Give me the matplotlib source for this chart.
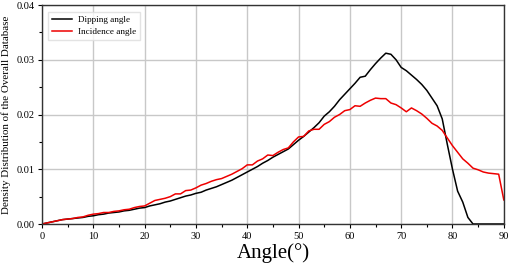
import matplotlib
matplotlib.use("Agg")
import matplotlib.pyplot as plt
from matplotlib.ticker import MultipleLocator
import numpy as np

angles = list(range(0, 91))
dipping = [0.0000,0.0002,0.0004,0.0006,0.0008,0.0009,0.0010,0.0011,0.0012,0.0014,
           0.0015,0.0017,0.0018,0.0020,0.0021,0.0022,0.0024,0.0025,0.0027,0.0029,
           0.0030,0.0033,0.0035,0.0037,0.0040,0.0042,0.0045,0.0048,0.0051,0.0053,
           0.0056,0.0058,0.0062,0.0065,0.0068,0.0072,0.0076,0.0080,0.0085,0.0090,
           0.0095,0.0100,0.0105,0.0111,0.0116,0.0122,0.0127,0.0132,0.0137,0.0145,
           0.0153,0.0160,0.0168,0.0176,0.0185,0.0197,0.0205,0.0215,0.0227,0.0237,
           0.0247,0.0257,0.0268,0.0270,0.0282,0.0293,0.0303,0.0312,0.0310,0.0300,
           0.0286,0.0280,0.0272,0.0264,0.0255,0.0244,0.0230,0.0216,0.0192,0.0145,
           0.0100,0.0060,0.0040,0.0012,0.0000,0.0000,0.0000,0.0000,0.0000,0.0000,
           0.0000]
incidence = [0.0000,0.0002,0.0004,0.0006,0.0008,0.0009,0.0010,0.0012,0.0013,0.0016,
             0.0018,0.0019,0.0021,0.0021,0.0023,0.0024,0.0026,0.0027,0.0030,0.0032,
             0.0033,0.0038,0.0043,0.0045,0.0047,0.0050,0.0055,0.0055,0.0061,0.0062,
             0.0066,0.0071,0.0074,0.0078,0.0081,0.0083,0.0087,0.0091,0.0096,0.0101,
             0.0108,0.0108,0.0115,0.0119,0.0126,0.0125,0.0131,0.0136,0.0139,0.0150,
             0.0159,0.0160,0.0170,0.0173,0.0173,0.0182,0.0187,0.0195,0.0200,0.0207,
             0.0209,0.0216,0.0215,0.0221,0.0226,0.0230,0.0229,0.0229,0.0221,0.0218,
             0.0212,0.0205,0.0212,0.0207,0.0201,0.0193,0.0184,0.0179,0.0171,0.0157,
             0.0143,0.0131,0.0119,0.0111,0.0102,0.0099,0.0095,0.0093,0.0092,0.0091,
             0.0044]

plt.rcParams['font.family'] = ['Liberation Serif', 'DejaVu Serif']

fig = plt.figure(figsize=(5.12, 2.64), dpi=100)
ax = fig.add_axes([0.082, 0.1515, 0.902, 0.8295])
ax.plot(angles, dipping, color='black', lw=1.1, label='Dipping angle')
ax.plot(angles, incidence, color='#ee0000', lw=1.1, label='Incidence angle')
ax.set_xlim(0, 90)
ax.set_ylim(0, 0.04)
ax.xaxis.set_major_locator(MultipleLocator(10))
ax.xaxis.set_minor_locator(MultipleLocator(5))
ax.yaxis.set_major_locator(MultipleLocator(0.01))
ax.yaxis.set_minor_locator(MultipleLocator(0.005))
ax.yaxis.set_major_formatter(matplotlib.ticker.FormatStrFormatter('%.2f'))
ax.grid(True, which='major', color='#c8c8c8', lw=1.0)
ax.set_axisbelow(True)
ax.tick_params(which='both', direction='out', labelsize=7.5, length=3, width=0.8, pad=2.5)
ax.tick_params(which='minor', length=2)
for s in ax.spines.values():
    s.set_linewidth(1.0)
    s.set_color('#333333')
ax.set_xlabel('Angle(°)', fontsize=15, labelpad=2)
ax.set_ylabel('Density Distribution of the Overall Database', fontsize=7.9, labelpad=4)
leg = ax.legend(loc='upper left', fontsize=6.6, frameon=True, fancybox=False,
                edgecolor='#dddddd', handlelength=2.2, borderpad=0.45,
                labelspacing=0.35, handletextpad=0.6,
                bbox_to_anchor=(0.003, 0.99))
fig.savefig('out.png', dpi=100)
